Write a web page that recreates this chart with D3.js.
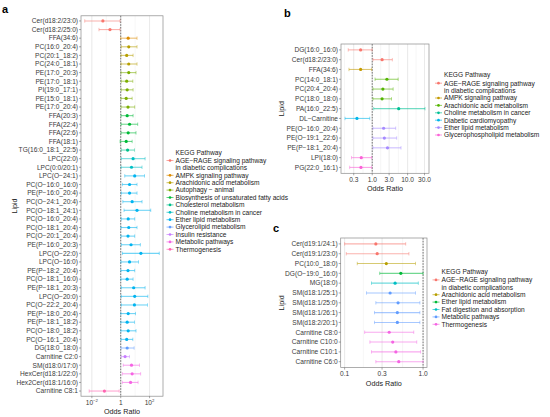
<!DOCTYPE html>
<html><head><meta charset="utf-8">
<script src="https://cdn.jsdelivr.net/npm/d3@7"></script>
<style>
body{margin:0;background:#fff}
svg{display:block}
text{font-family:"Liberation Sans",Arial,Helvetica,sans-serif}
</style>
</head><body>
<svg id="chart" width="550" height="417"></svg>
<script>
// ---------------- DATA ----------------
// Panel a
const aPathways = ["AGE\u2212RAGE signaling pathway|in diabetic complications","AMPK signaling pathway","Arachidonic acid metabolism","Autophagy \u2212 animal","Biosynthesis of unsaturated fatty acids","Cholesterol metabolism","Choline metabolism in cancer","Ether lipid metabolism","Glycerolipid metabolism","Insulin resistance","Metabolic pathways","Thermogenesis"];
const aLipids = ["Cer(d18:2/23:0)","Cer(d18:2/25:0)","FFA(34:6)","PC(16:0_20:4)","PC(20:1_18:2)","PC(24:0_18:1)","PE(17:0_20:3)","PE(17:0_18:1)","PI(19:0_17:1)","PE(15:0_18:1)","PE(17:0_20:4)","FFA(20:3)","FFA(22:4)","FFA(22:6)","FFA(18:1)","TG(16:0_18:1_22:5)","LPC(22:0)","LPC(0:0/20:1)","LPC(O\u221224:1)","PC(O\u221216:0_16:0)","PE(P\u221216:0_20:4)","PC(O\u221224:1_20:4)","PC(O\u221218:1_24:1)","PC(O\u221216:0_20:4)","PC(O\u221218:1_20:4)","PC(O\u221220:1_20:4)","PE(P\u221216:0_20:3)","LPC(O\u221222:0)","LPC(O\u221216:0)","PE(P\u221218:2_20:4)","PC(O\u221218:1_16:0)","PE(P\u221218:1_20:3)","LPC(O\u221220:0)","PC(O\u221222:2_20:4)","PE(P\u221218:0_20:4)","PE(P\u221218:1_18:2)","PC(O\u221218:0_18:2)","PC(O\u221216:1_20:4)","DG(18:0_18:0)","Carnitine C2:0","SM(d18:0/17:0)","HexCer(d18:1/22:0)","Hex2Cer(d18:1/16:0)","Carnitine C8:1"];
const aOR   = [0.058,0.18,3.3,3.6,2.6,3.6,3.6,2.6,2.8,2.4,3.2,2.8,4.1,3.3,2.4,3.0,7.2,5.6,9.3,4.1,4.1,6.2,13.5,3.3,3.6,3.2,5.2,25,4.1,3.2,2.8,7.9,9.3,8.9,3.3,2.8,3.3,2.6,2.8,2.0,5.6,6.2,4.8,0.074];
const aLow  = [0.0032,0.031,1.0,1.1,1.05,1.05,1.05,1.1,1.1,1.05,1.05,1.07,1.05,1.05,0.9,1.1,1.1,1.07,1.9,1.3,1.1,1.4,1.7,1.1,1.05,1.05,1.1,1.3,1.02,1.02,1.02,1.1,1.1,1.1,1.02,1.02,1.02,1.05,1.05,1.1,1.5,1.3,1.3,0.0065];
const aHigh = [0.89,0.89,13.5,13.5,7.2,13.5,11.5,6.9,7.2,6.2,9.3,7.2,15,11.5,6.2,8.9,49,30,45,13.5,13.5,30,120,9.3,13.5,9.3,23,470,17,9.3,7.2,49,76,71,10.5,8.9,11.5,6.9,8.5,4.1,20,24,16,0.78];
const aGroup = [0,0,1,2,2,2,3,3,3,3,3,4,4,4,4,5,6,6,7,7,7,7,7,7,7,7,7,7,7,7,7,7,7,7,7,7,7,7,8,9,10,10,10,11];
const aTicks = [0.01,1,100];

// Panel b
const bPathways = ["AGE\u2212RAGE signaling pathway|in diabetic complications","AMPK signaling pathway","Arachidonic acid metabolism","Choline metabolism in cancer","Diabetic cardiomyopathy","Ether lipid metabolism","Glycerophospholipid metabolism"];
const bLipids = ["DG(16:0_16:0)","Cer(d18:2/23:0)","FFA(34:6)","PC(14:0_18:1)","PC(20:4_20:4)","PC(18:0_18:0)","PA(16:0_22:5)","DL\u2212Carnitine","PE(O\u221216:0_20:4)","PE(O\u221219:1_22:6)","PE(P\u221218:1_20:4)","LPI(18:0)","PG(22:0_16:1)"];
const bOR   = [0.47,1.9,0.47,2.6,2.0,1.9,5.6,0.37,2.1,2.2,2.7,0.49,0.48];
const bLow  = [0.21,1.05,0.22,1.2,1.05,1.05,1.1,0.17,1.05,1.05,1.05,0.26,0.23];
const bHigh = [0.99,3.7,0.96,5.4,3.9,3.5,31,0.85,4.6,4.9,6.5,0.96,0.96];
const bGroup = [0,0,1,2,2,2,3,4,5,5,5,6,6];
const bTicks = [0.3,1,3,10,30];

// Panel c
const cPathways = ["AGE\u2212RAGE signaling pathway|in diabetic complications","Arachidonic acid metabolism","Ether lipid metabolism","Fat digestion and absorption","Metabolic pathways","Thermogenesis"];
const cLipids = ["Cer(d19:1/24:1)","Cer(d19:1/23:0)","PC(10:0_18:0)","DG(O\u221219:0_16:0)","MG(18:0)","SM(d18:1/25:1)","SM(d18:1/25:0)","SM(d18:1/26:1)","SM(d18:2/20:1)","Carnitine C8:0","Carnitine C10:0","Carnitine C10:1","Carnitine C6:0"];
const cOR   = [0.25,0.26,0.34,0.52,0.44,0.38,0.48,0.47,0.47,0.37,0.41,0.45,0.49];
const cLow  = [0.10,0.105,0.145,0.28,0.22,0.19,0.25,0.24,0.24,0.18,0.21,0.22,0.25];
const cHigh = [0.60,0.66,0.80,1.0,0.87,0.80,0.91,0.91,0.91,0.76,0.83,0.93,1.0];
const cGroup = [0,0,1,2,3,4,4,4,4,5,5,5,5];
const cTicks = [0.1,0.3,1];

// ---------------- STYLE ----------------
const aColors = ["#F8766D","#DE8C00","#B79F00","#7CAE00","#00BA38","#00C08B","#00BFC4","#00B4F0","#619CFF","#C77CFF","#F564E3","#FF64B0"];
const bColors = ["#F8766D","#C49A00","#53B400","#00C094","#00B6EB","#A58AFF","#FB61D7"];
const cColors = ["#F8766D","#B79F00","#00BA38","#00BFC4","#619CFF","#F564E3"];

const svg = d3.select("#chart");
const FS = 6.6;

function panel(p){
  const g = svg.append("g");
  const lo = Math.log10(d3.min(p.low)), hi = Math.log10(d3.max(p.high));
  const ex = (hi - lo) * 0.05;
  const x = d3.scaleLog().domain([10 ** (lo - ex), 10 ** (hi + ex)]).range([p.x0, p.x1]);
  const y = d3.scalePoint().domain(p.lipids).range([p.y0, p.y1]).padding(0.6);

  // minor grid
  const lt = p.ticks.map(Math.log10);
  const minors = [];
  for (let i = 0; i < lt.length - 1; i++) minors.push((lt[i] + lt[i + 1]) / 2);
  minors.push(lt[0] - (lt[1] - lt[0]) / 2, lt[lt.length - 1] + (lt[lt.length - 1] - lt[lt.length - 2]) / 2);
  const [dl, dh] = x.domain().map(Math.log10);
  g.selectAll(".mn").data(minors.filter(m => m > dl && m < dh)).join("line")
    .attr("x1", m => x(10 ** m)).attr("x2", m => x(10 ** m))
    .attr("y1", p.y0).attr("y2", p.y1).attr("stroke", "#ececec").attr("stroke-width", 0.5);
  g.selectAll(".mj").data(p.ticks).join("line")
    .attr("x1", d => x(d)).attr("x2", d => x(d))
    .attr("y1", p.y0).attr("y2", p.y1).attr("stroke", "#e0e0e0").attr("stroke-width", 0.7);

  // reference line at 1
  g.append("line").attr("x1", x(1)).attr("x2", x(1)).attr("y1", p.y0).attr("y2", p.y1)
    .attr("stroke", "#555").attr("stroke-width", 0.8).attr("stroke-dasharray", "1.6,1.2");

  // error bars
  const idx = d3.range(p.lipids.length);
  const rows = g.selectAll(".row").data(idx).join("g");
  rows.append("line")
    .attr("x1", i => x(p.low[i])).attr("x2", i => x(p.high[i]))
    .attr("y1", i => y(p.lipids[i])).attr("y2", i => y(p.lipids[i]))
    .attr("stroke", i => p.colors[p.group[i]]).attr("stroke-width", 1.1).attr("opacity", 0.55);
  [p.low, p.high].forEach(arr => {
    rows.append("line")
      .attr("x1", i => x(arr[i])).attr("x2", i => x(arr[i]))
      .attr("y1", i => y(p.lipids[i]) - 1.7).attr("y2", i => y(p.lipids[i]) + 1.7)
      .attr("stroke", i => p.colors[p.group[i]]).attr("stroke-width", 0.8).attr("opacity", 0.55);
  });
  rows.append("circle")
    .attr("cx", i => x(p.or[i])).attr("cy", i => y(p.lipids[i])).attr("r", 1.6)
    .attr("fill", i => p.colors[p.group[i]]);

  // border
  g.append("rect").attr("x", p.x0).attr("y", p.y0).attr("width", p.x1 - p.x0).attr("height", p.y1 - p.y0)
    .attr("fill", "none").attr("stroke", "#8a8a8a").attr("stroke-width", 0.7);

  // y axis labels
  g.selectAll(".yl").data(p.lipids).join("text")
    .attr("x", p.x0 - 3).attr("y", d => y(d)).attr("dy", "0.35em")
    .attr("text-anchor", "end").attr("font-size", FS).attr("fill", "#3a3a3a").text(d => d);
  g.selectAll(".yt").data(p.lipids).join("line")
    .attr("x1", p.x0 - 2).attr("x2", p.x0).attr("y1", d => y(d)).attr("y2", d => y(d))
    .attr("stroke", "#555").attr("stroke-width", 0.5);

  // x ticks
  g.selectAll(".xt").data(p.ticks).join("line")
    .attr("x1", d => x(d)).attr("x2", d => x(d)).attr("y1", p.y1).attr("y2", p.y1 + 2)
    .attr("stroke", "#555").attr("stroke-width", 0.5);
  const tl = g.selectAll(".xl").data(p.ticks).join("text")
    .attr("x", d => x(d)).attr("y", p.y1 + 8.5).attr("text-anchor", "middle")
    .attr("font-size", FS).attr("fill", "#3a3a3a");
  if (p.sup) {
    tl.each(function(d){
      const e = Math.round(Math.log10(d));
      const t = d3.select(this);
      if (e === 0) { t.text("1"); }
      else {
        t.append("tspan").text("10");
        t.append("tspan").attr("dy", -2.8).attr("font-size", 4.3).text(e < 0 ? "\u2212" + (-e) : e);
      }
    });
  } else tl.text(d => d3.format(".1f")(d));

  // axis titles
  g.append("text").attr("x", (p.x0 + p.x1) / 2).attr("y", p.y1 + 18).attr("text-anchor", "middle")
    .attr("font-size", 7.2).attr("fill", "#222").text("Odds Ratio");
  g.append("text").attr("transform", `translate(${p.ylabX},${(p.y0 + p.y1) / 2}) rotate(-90)`)
    .attr("text-anchor", "middle").attr("font-size", 7.2).attr("fill", "#222").text("Lipid");

  // panel letter
  g.append("text").attr("x", p.letX).attr("y", p.letY).attr("font-size", 11).attr("font-weight", "bold")
    .attr("fill", "#000").text(p.letter);

  // legend
  const L = g.append("g");
  L.append("text").attr("x", p.lx + 5.5).attr("y", p.ly).attr("dy", "0.35em")
    .attr("font-size", FS).attr("fill", "#222").text("KEGG Pathway");
  let yy = p.ly + p.ls + 0.8;
  p.pathways.forEach((name, i) => {
    const parts = name.split("|");
    L.append("line").attr("x1", p.lx - 3.5).attr("x2", p.lx + 3.5).attr("y1", yy).attr("y2", yy)
      .attr("stroke", p.colors[i]).attr("stroke-width", 0.9).attr("opacity", 0.7);
    L.append("circle").attr("cx", p.lx).attr("cy", yy).attr("r", 1.35).attr("fill", p.colors[i]);
    parts.forEach((pt, j) => {
      L.append("text").attr("x", p.lx + 5.5).attr("y", yy + j * p.ls).attr("dy", "0.35em")
        .attr("font-size", FS).attr("fill", "#222").text(pt);
    });
    yy += p.ls * parts.length;
  });
}

panel({lipids: aLipids, or: aOR, low: aLow, high: aHigh, group: aGroup, pathways: aPathways, colors: aColors,
  ticks: aTicks, sup: true, x0: 81, x1: 163, y0: 15.8, y1: 396.2, ylabX: 17, letter: "a", letX: 2, letY: 13,
  lx: 170, ly: 152.3, ls: 7.4});
panel({lipids: bLipids, or: bOR, low: bLow, high: bHigh, group: bGroup, pathways: bPathways, colors: bColors,
  ticks: bTicks, sup: false, x0: 341, x1: 429, y0: 44, y1: 173.3, ylabX: 284, letter: "b", letX: 284, letY: 17,
  lx: 438.5, ly: 75, ls: 7.4});
panel({lipids: cLipids, or: cOR, low: cLow, high: cHigh, group: cGroup, pathways: cPathways, colors: cColors,
  ticks: cTicks, sup: false, x0: 340.7, x1: 427, y0: 238, y1: 367.6, ylabX: 284, letter: "c", letX: 273, letY: 232,
  lx: 436, ly: 271.7, ls: 7.4});
</script>
</body></html>
